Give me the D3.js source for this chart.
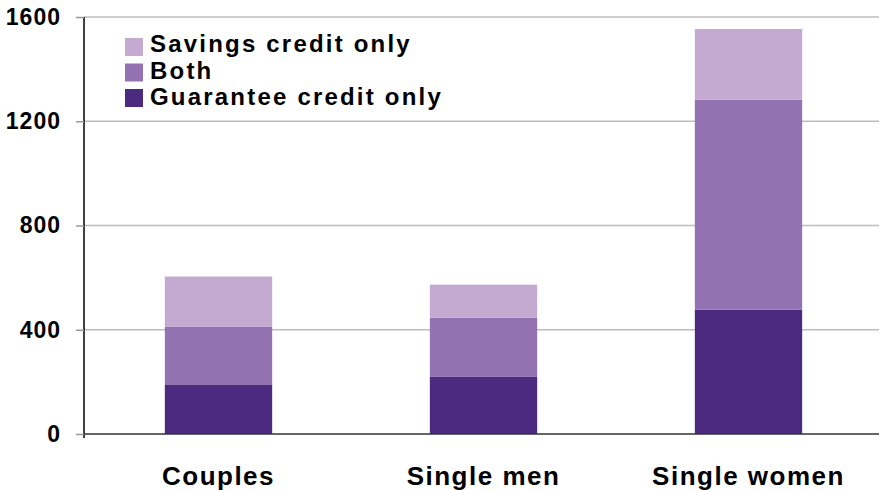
<!DOCTYPE html>
<html><head><meta charset="utf-8">
<script src="https://cdn.jsdelivr.net/npm/d3@7"></script>
<style>body{margin:0;background:#fff}svg{display:block}text{font-family:"Liberation Sans",Arial,sans-serif;font-weight:bold;fill:#000}</style>
</head><body>
<script>
const categories = ["Couples", "Single men", "Single women"];
const seriesNames = ["Guarantee credit only", "Both", "Savings credit only"];
const guaranteeOnly = [188, 219, 477];
const both = [223, 227, 805];
const savingsOnly = [193, 127, 272];
const yTicks = [0, 400, 800, 1200, 1600];
const colors = ["#4C2A80", "#9472B2", "#C4A9D1"];

(function () {
const W = 881, H = 490;
const svg = d3.select("body").append("svg").attr("width", W).attr("height", H);
const mLeft = 84, mRight = 879, mTop = 17, mBottom = 434;

const x = d3.scaleBand().domain(categories).range([mLeft + 2, mRight + 2]).paddingInner(0.595).paddingOuter(0.2975);
const y = d3.scaleLinear().domain([0, 1600]).range([mBottom, mTop]);

const rows = categories.map((c, i) => ({cat: c, "Guarantee credit only": guaranteeOnly[i], "Both": both[i], "Savings credit only": savingsOnly[i]}));
const stack = d3.stack().keys(seriesNames)(rows);

svg.append("g").selectAll("line").data(yTicks.filter(d => d > 0)).join("line")
  .attr("x1", mLeft).attr("x2", mRight).attr("y1", d => y(d)).attr("y2", d => y(d))
  .attr("stroke", "#BDBDBD").attr("stroke-width", 1.5);

svg.append("g").selectAll("g").data(stack).join("g").attr("fill", (d, i) => colors[i])
  .selectAll("rect").data(d => d).join("rect")
  .attr("x", d => x(d.data.cat)).attr("width", x.bandwidth())
  .attr("y", d => y(d[1])).attr("height", d => y(d[0]) - y(d[1]));

const yAxis = d3.axisLeft(y).tickValues(yTicks).tickFormat(d3.format("d")).tickSize(8).tickPadding(15);
const gy = svg.append("g").attr("transform", `translate(${mLeft},0)`).call(yAxis);
gy.select(".domain").attr("stroke", "#000").attr("stroke-width", 1.5).attr("d", `M0,${mTop}V${mBottom + 4}`);
gy.selectAll(".tick line").attr("stroke", "#999").attr("stroke-width", 1.5);
gy.selectAll(".tick text").style("font-size", "23px").style("letter-spacing", "1px")
  .style("font-family", "Liberation Sans, Arial, sans-serif").style("font-weight", "bold").attr("fill", "#000");

svg.append("line").attr("x1", mLeft).attr("x2", mRight).attr("y1", y(0)).attr("y2", y(0)).attr("stroke", "#333").attr("stroke-width", 1.5);

const xAxis = d3.axisBottom(x).tickSize(0).tickPadding(33);
const gx = svg.append("g").attr("transform", `translate(0,${mBottom})`).call(xAxis);
gx.select(".domain").remove();
gx.selectAll(".tick text").style("font-size", "26px").style("letter-spacing", "1.5px")
  .style("font-family", "Liberation Sans, Arial, sans-serif").style("font-weight", "bold").attr("fill", "#000");

const legendItems = seriesNames.slice().reverse();
const legendColors = colors.slice().reverse();
const lg = svg.append("g");
legendItems.forEach((name, i) => {
  lg.append("rect").attr("x", 125).attr("y", 38 + i * 25.5).attr("width", 18).attr("height", 18).attr("fill", legendColors[i]);
  lg.append("text").attr("x", 150).attr("y", 52 + i * 26.5).style("font-size", "24px").style("letter-spacing", "2.2px").text(name);
});
})();
</script>
</body></html>
